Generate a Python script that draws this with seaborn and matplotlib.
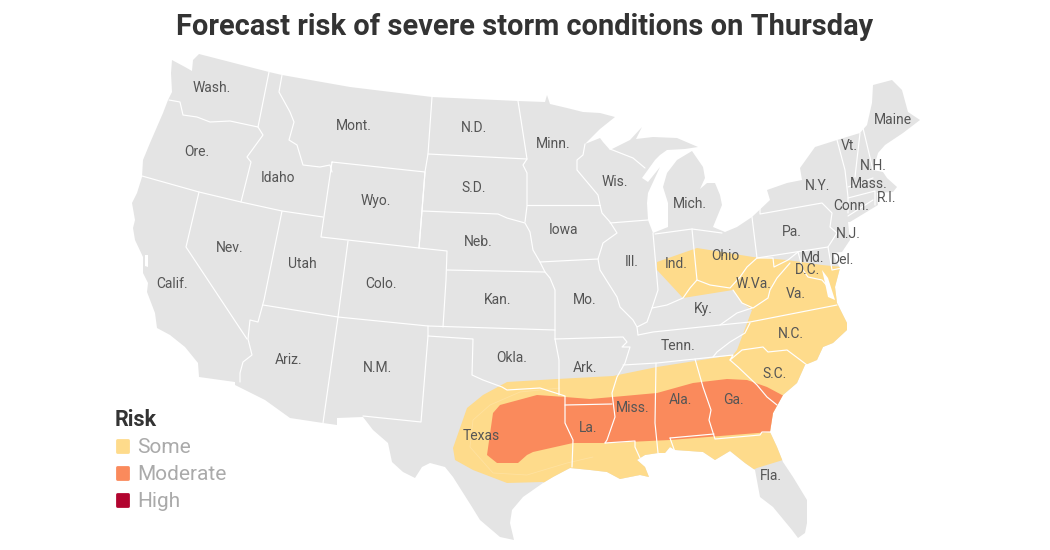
import pandas as pd
import seaborn as sns
import matplotlib.pyplot as plt
from matplotlib.patches import Polygon

# map outlines, in picture pixels
land = [(172,60),(185,67),(192,71),(193,60),(199,54),(269,72),(282,75),(350,87),(432,97),(518,101),(545,102),(547,95),
        (550,104),(567,108),(583,112),(600,113),(615,117),(600,129),(585,144),(600,138),(603,142),(610,150),(630,140),
        (642,127),(636,139),(653,137),(677,138),(698,147),(685,149),(667,150),(660,155),(655,160),(642,178),(648,182),
        (660,167),(648,193),(647,203),(648,220),(653,233),(668,227),(668,203),(663,187),(667,173),(677,160),(692,151),
        (703,167),(705,178),(700,189),(707,183),(715,183),(720,195),(722,205),(713,227),(725,232),(737,227),(752,217),
        (770,200),(767,190),(787,183),(802,180),(800,168),(815,147),(837,140),(860,133),(867,125),(872,103),(873,85),
        (892,80),(902,90),(908,112),(920,120),(903,133),(885,145),(878,153),(873,170),(883,172),(887,178),(897,187),
        (893,192),(877,193),(878,205),(850,222),(848,222),(850,240),(842,252),(832,253),(840,268),(835,287),(837,303),
        (847,323),(847,330),(833,343),(823,347),(817,360),(805,365),(797,383),(783,395),(773,413),(770,432),(777,447),
        (783,462),(793,477),(807,500),(807,523),(805,533),(798,538),(792,530),(773,507),(760,497),(755,470),(745,463),
        (730,451),(715,460),(703,452),(675,450),(670,447),(665,453),(658,453),(645,455),(637,460),(645,467),(649,477),
        (640,475),(620,479),(607,472),(590,470),(570,468),(553,477),(543,483),(523,497),(512,510),(510,523),(514,540),
        (500,537),(480,520),(472,507),(453,477),(445,467),(430,463),(422,467),(415,478),(403,472),(392,462),(388,443),
        (373,430),(363,417),(337,418),(337,425),(323,423),(290,418),(265,400),(235,385),(235,382),(199,377),(198,363),
        (185,347),(170,335),(157,328),(155,313),(147,292),(148,283),(143,273),(143,257),(135,240),(133,228),(135,220),
        (132,203),(137,193),(142,177),(143,160),(150,143),(163,113),(168,100),(172,92),(171,73)]
some_area = [(453,448),(467,408),(483,395),(507,382),(557,379),(613,376),(657,367),(695,361),(733,355),(737,350),
             (752,310),(742,303),(733,290),(683,298),(657,270),(657,262),(697,248),(753,257),(787,260),(822,265),(842,267),
             (870,268),(880,380),(800,460),(783,460),(757,468),(700,495),(560,495),(543,482),(507,483),(473,470),(455,460)]
moderate_area = [(487,455),(493,413),(500,405),(537,395),(565,397),(590,399),(613,397),(657,393),(693,383),(727,379),
                 (747,380),(767,387),(782,395),(800,400),(800,432),(770,432),(670,440),(607,443),(573,443),(533,452),
                 (527,455),(518,463),(497,463)]
faint_contour = [(560,388),(520,392),(490,405),(473,420),(470,447),(493,473),(527,475),(567,463),(593,457)]
borders = [
    [(169,100),(180,102),(183,115),(197,117),(210,122),(230,121),(258,127)],
    [(269,72),(258,127),(263,135),(247,157),(251,162),(241,202)],
    [(282,75),(279,92),(290,112),(294,122),(289,140),(297,145),(303,165),(320,167),(330,165),(332,172)],
    [(142,176),(199,192),(241,202),(282,211),(323,217)],
    [(199,192),(186,247),(247,339)],
    [(282,211),(264,300),(258,322),(250,320),(248,339),(252,355),(243,362),(240,373),(240,382)],
    [(263,305),(338,317),(428,326),(555,330)],
    [(338,317),(323,423)],
    [(348,241),(338,317)],
    [(332,162),(425,172),(419,248),(321,237),(332,162)],
    [(419,248),(447,251),(446,280),(443,327)],
    [(419,248),(422,211),(498,214),(507,218),(525,223),(530,232),(533,250),(540,262),(545,272),(550,278),(555,290),(555,339)],
    [(447,270),(545,272)],
    [(432,97),(428,154),(425,172),(422,211)],
    [(428,154),(527,159)],
    [(518,101),(521,120),(527,159),(523,165),(527,173),(527,206),(525,222)],
    [(527,205),(600,205)],
    [(540,262),(598,259)],
    [(585,144),(583,155),(577,160),(577,170),(598,195),(600,205),(602,213),(610,222),(617,233),(603,243),(598,259),(600,270),
     (617,297),(620,307),(633,320),(637,327),(638,335)],
    [(610,223),(648,220)],
    [(610,149),(633,158),(645,168)],
    [(653,233),(658,290),(652,308),(647,322),(637,327)],
    [(655,234),(692,229),(722,233)],
    [(692,229),(697,280)],
    [(752,217),(757,258)],
    [(760,207),(760,214),(822,203),(832,213),(830,227),(837,233),(828,247),(757,258)],
    [(828,247),(832,270),(842,268)],
    [(652,308),(667,305),(683,298),(690,288),(697,280),(710,285),(730,288),(740,277),(747,267),(757,258),(773,258),(774,267),
     (788,260),(798,252)],
    [(790,263),(777,278),(770,290),(768,298),(753,308),(742,303),(733,290)],
    [(638,335),(653,332),(720,325),(750,322),(837,305)],
    [(720,325),(737,313),(752,308)],
    [(750,323),(745,333),(730,342),(717,352),(713,357)],
    [(623,365),(657,363),(695,359),(733,355),(730,360),(742,350),(763,347),(768,352),(787,350),(807,365)],
    [(730,360),(738,367),(757,385),(767,397),(777,405)],
    [(695,359),(703,387),(711,410),(709,420),(715,439),(760,435),(762,432),(772,432)],
    [(670,438),(714,434)],
    [(670,438),(675,452)],
    [(656,363),(655,423),(658,453)],
    [(605,443),(635,441),(635,447),(640,458)],
    [(555,339),(623,337),(627,342),(622,347),(630,347),(625,363),(617,377),(612,393),(615,417),(607,440),(605,443)],
    [(565,405),(612,404)],
    [(428,326),(428,336),(473,339),(472,375),(483,380),(502,387),(507,390),(540,388),(565,396),(565,423),(573,440),(572,467)],
    [(555,339),(559,360),(559,395)],
    [(428,336),(421,422),(363,416)],
    [(837,140),(845,170),(848,197),(848,213)],
    [(860,133),(855,177)],
    [(863,128),(873,170)],
    [(848,187),(873,178)],
    [(848,198),(875,191),(875,205)],
    [(798,252),(803,270),(808,277),(822,280),(828,287)],
    [(848,216),(873,200)],
]
chesapeake = [(822,270),(828,278),(835,300),(828,297),(825,283)]
sf_bay = [(145,255),(148,255),(148,267),(145,266)]

state_names = ['Wash.','Ore.','Idaho','Mont.','Wyo.','Nev.','Utah','Colo.','Calif.','Ariz.','N.M.','N.D.','S.D.','Neb.',
               'Kan.','Okla.','Texas','Minn.','Iowa','Mo.','Ark.','La.','Wis.','Ill.','Ind.','Mich.','Ohio','Ky.','Tenn.',
               'Miss.','Ala.','Ga.','Fla.','S.C.','N.C.','Va.','W.Va.','Pa.','N.Y.','D.C.','Md.','Del.','N.J.','Conn.',
               'R.I.','Mass.','N.H.','Vt.','Maine']
label_x = [212,197,278,354,376,230,302,381,172,289,377,474,474,478,498,512,481,553,564,585,585,588,615,632,676,690,725,703,
           678,633,680,733,771,775,791,796,754,792,818,807,813,843,848,851,887,869,873,849,893]
label_y = [87,150,176,124,200,247,263,282,283,358,367,127,186,241,299,357,435,143,229,299,367,426,180,261,263,203,254,307,
           345,406,399,398,474,372,333,293,283,230,184,268,256,258,232,204,197,183,165,145,119]

risk_names = ['Some','Moderate','High']
risk_colors = ['#fedb8b','#fa8a5c','#b2042f']
legend_y = [446,473,500]

sns.set_theme(style='white')
plt.rcParams['font.family'] = ['Roboto', 'DejaVu Sans']

fig, ax = plt.subplots(figsize=(10.5, 5.5), dpi=100)
ax.set_position([0, 0, 1, 1])

land_patch = Polygon(land, closed=True, fc='#e4e4e4', ec='none', zorder=1)
ax.add_patch(land_patch)
for area, col in zip([some_area, moderate_area], risk_colors):
    p = Polygon(area, closed=True, fc=col, ec='none', zorder=2)
    ax.add_patch(p)
    p.set_clip_path(land_patch)

rows = []
for i, b in enumerate(borders):
    for x, y in b:
        rows.append({'border': i, 'x': x, 'y': y})
df = pd.DataFrame(rows)
sns.lineplot(data=df, x='x', y='y', units='border', estimator=None, sort=False, color='white', linewidth=0.85, ax=ax, zorder=3)
faint = pd.DataFrame(faint_contour, columns=['x', 'y'])
sns.lineplot(data=faint, x='x', y='y', estimator=None, sort=False, color='white', linewidth=0.6, alpha=0.18, ax=ax, zorder=3)
ax.add_patch(Polygon(chesapeake, closed=True, fc='white', ec='none', zorder=3))
ax.add_patch(Polygon(sf_bay, closed=True, fc='white', ec='none', zorder=3))

for name, x, y in zip(state_names, label_x, label_y):
    ax.text(x, y, name, ha='center', va='center_baseline', fontsize=10, color='#555555', zorder=4)

ax.text(524.5, 35, 'Forecast risk of severe storm conditions on Thursday', ha='center', va='baseline',
        fontsize=20.9, fontweight='bold', color='#333333')

ax.text(115, 426, 'Risk', ha='left', va='baseline', fontsize=15.5, fontweight='bold', color='#333333')
leg = pd.DataFrame({'x': [122.5] * 3, 'y': legend_y, 'risk': risk_names})
sns.scatterplot(data=leg, x='x', y='y', hue='risk', palette=risk_colors, marker='s', s=72, linewidth=2,
                edgecolor='face', legend=False, ax=ax, zorder=4)
for name, y in zip(risk_names, legend_y):
    ax.text(137, y + 7, name, ha='left', va='baseline', fontsize=15, color='#aaaaaa')

ax.set_xlim(0, 1050)
ax.set_ylim(550, 0)
ax.axis('off')
fig.savefig('out.png', dpi=100)
